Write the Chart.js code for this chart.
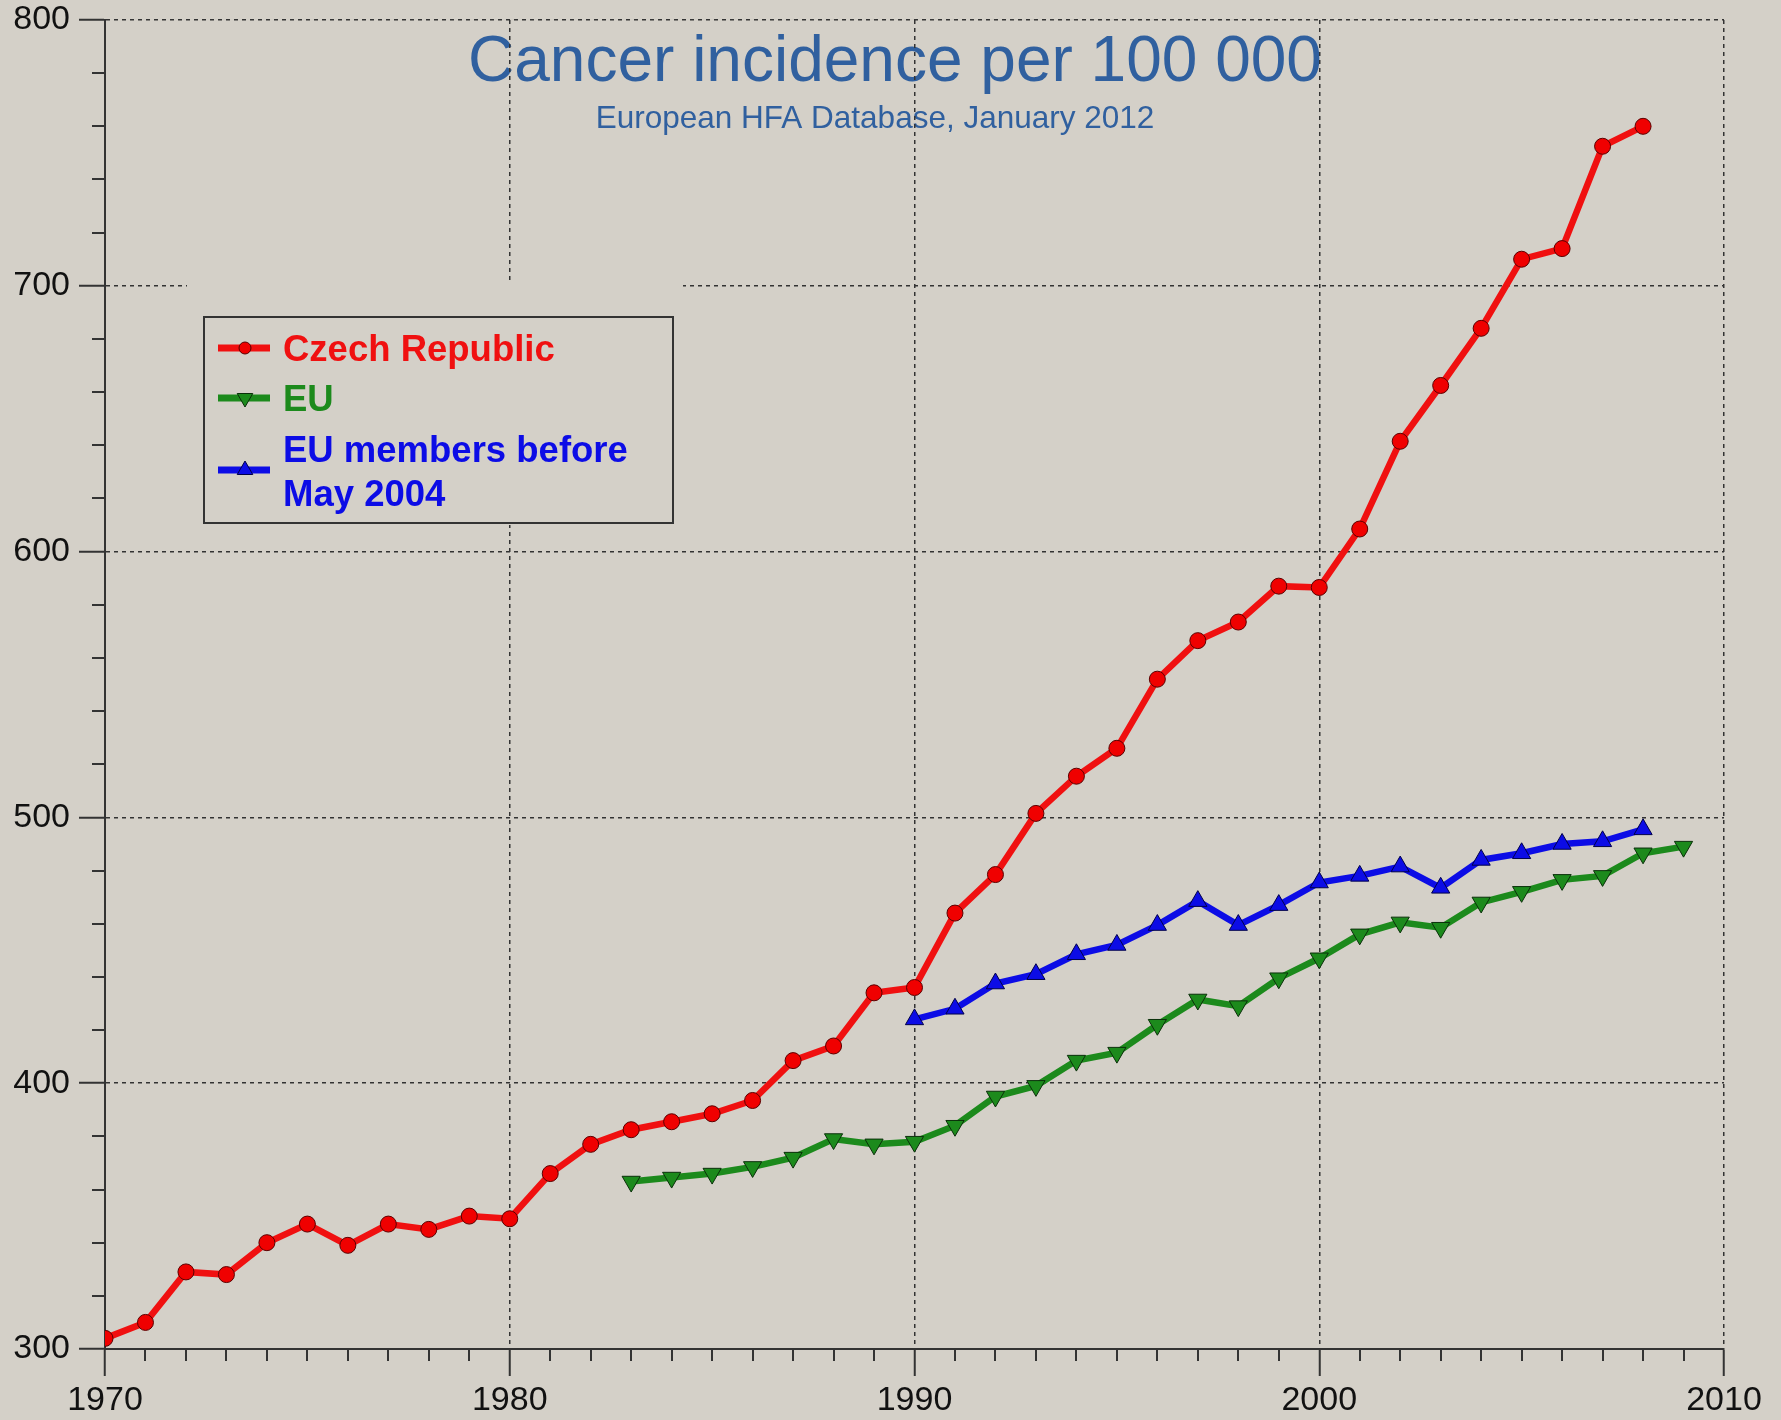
<!DOCTYPE html>
<html>
<head>
<meta charset="utf-8">
<script src="https://cdn.jsdelivr.net/npm/chart.js@4.4.1/dist/chart.umd.min.js"></script>
<style>
  html,body{margin:0;padding:0;background:#d4d0c8;}
  canvas{display:block;}
</style>
</head>
<body>
<canvas id="chart" width="1781" height="1420"></canvas>
<script>
const YEARS=[1970,1971,1972,1973,1974,1975,1976,1977,1978,1979,1980,1981,1982,1983,1984,1985,1986,1987,1988,1989,
  1990,1991,1992,1993,1994,1995,1996,1997,1998,1999,2000,2001,2002,2003,2004,2005,2006,2007,2008,2009];

const CZECH=[304,310,329,328,340,347,339,347,345,350,349,366,377,382.5,385.5,388.5,393.5,408.5,414,434,
  436,464,478.5,501.5,515.5,526,552,566.5,573.5,587,586.5,608.5,641.5,662.5,684,710,714,752.5,760,null];

const EU=[null,null,null,null,null,null,null,null,null,null,null,null,null,363,364.5,366,368.5,372,379,377,
  378,384,395,399,408.5,411.5,422,431.5,429,439.5,447,456,460.5,458.5,468,472,476.5,478,486.5,489];

const EU_OLD=[null,null,null,null,null,null,null,null,null,null,null,null,null,null,null,null,null,null,null,null,
  424,428,437.5,441,448.5,452,459.5,468.5,459.5,467,475.5,478,481.5,473.5,484,486.5,490,491,495.5,null];

const SERIES_LABELS=[["Czech Republic"],["EU"],["EU members before","May 2004"]];
const TITLE="Cancer incidence per 100 000";
const SUBTITLE="European HFA Database, January 2012";

const BG="#d4d0c8";
const AXIS="#333333";
const RED="#f01010";
const GREEN="#1c8a1c";
const BLUE="#0c0ce6";

function points(values){
  const out=[];
  values.forEach((v,i)=>{ if(v!==null) out.push({x:YEARS[i],y:v}); });
  return out;
}

/* fond + titres (sous la grille) */
const backdrop={
  id:"backdrop",
  beforeDraw(chart){
    const ctx=chart.ctx;
    ctx.save();
    ctx.fillStyle=BG;
    ctx.fillRect(0,0,chart.width,chart.height);
    ctx.fillStyle="#30609f";
    ctx.textAlign="center";
    ctx.textBaseline="alphabetic";
    ctx.font="64px 'Liberation Sans', Arial, sans-serif";
    ctx.fillText(TITLE,895,81);
    ctx.font="31.5px 'Liberation Sans', Arial, sans-serif";
    ctx.fillText(SUBTITLE,875,128);
    ctx.restore();
  }
};

/* petites graduations */
const minorTicks={
  id:"minorTicks",
  afterDraw(chart){
    const ctx=chart.ctx;
    const xs=chart.scales.x, ys=chart.scales.y;
    const area=chart.chartArea;
    ctx.save();
    ctx.strokeStyle=AXIS;
    ctx.lineWidth=2;
    ctx.beginPath();
    for(let v=ys.min;v<=ys.max;v+=20){
      if(v%100===0) continue;
      const y=Math.round(ys.getPixelForValue(v));
      ctx.moveTo(area.left-13,y);
      ctx.lineTo(area.left,y);
    }
    for(let yr=xs.min;yr<=xs.max;yr++){
      if(yr%10===0) continue;
      const x=Math.round(xs.getPixelForValue(yr));
      ctx.moveTo(x,area.bottom);
      ctx.lineTo(x,area.bottom+12);
    }
    ctx.stroke();
    ctx.restore();
  }
};

/* légende encadrée */
const boxLegend={
  id:"boxLegend",
  beforeDatasetsDraw(chart){
    const ctx=chart.ctx;
    ctx.save();
    ctx.fillStyle=BG;
    ctx.fillRect(187,282,496,243);
    ctx.strokeStyle=AXIS;
    ctx.lineWidth=2;
    ctx.strokeRect(204,317,469,206);

    const rows=[
      {lineY:348,base:[361]},
      {lineY:398,base:[411]},
      {lineY:470,base:[462,506]}
    ];
    ctx.font="bold 36.5px 'Liberation Sans', Arial, sans-serif";
    ctx.textBaseline="alphabetic";
    ctx.textAlign="left";
    chart.data.datasets.forEach((ds,i)=>{
      const r=rows[i];
      ctx.strokeStyle=ds.borderColor;
      ctx.lineWidth=7;
      ctx.beginPath();
      ctx.moveTo(218,r.lineY);
      ctx.lineTo(270,r.lineY);
      ctx.stroke();
      ctx.fillStyle=ds.pointBackgroundColor;
      ctx.strokeStyle=ds.pointBorderColor;
      ctx.lineWidth=1;
      Chart.helpers.drawPoint(ctx,{pointStyle:ds.pointStyle,rotation:ds.pointRotation||0,radius:i===0?6:9,borderWidth:1},245,r.lineY);
      ctx.fillStyle=ds.borderColor;
      SERIES_LABELS[i].forEach((t,k)=>ctx.fillText(t,283,r.base[k]));
    });
    ctx.restore();
  }
};

new Chart(document.getElementById("chart"),{
  type:"line",
  data:{
    datasets:[
      {
        label:SERIES_LABELS[0].join(" "),
        data:points(CZECH),
        borderColor:RED,
        borderWidth:6.5,
        pointStyle:"circle",
        pointRadius:8,
        pointBackgroundColor:"#f00000",
        pointBorderColor:"#5a0000",
        pointBorderWidth:1,
        tension:0
      },
      {
        label:SERIES_LABELS[1].join(" "),
        data:points(EU),
        borderColor:GREEN,
        borderWidth:6.5,
        pointStyle:"triangle",
        pointRotation:180,
        pointRadius:10.5,
        pointBackgroundColor:"#1c8a1c",
        pointBorderColor:"#0a300a",
        pointBorderWidth:1,
        tension:0
      },
      {
        label:SERIES_LABELS[2].join(" "),
        data:points(EU_OLD),
        borderColor:BLUE,
        borderWidth:6.5,
        pointStyle:"triangle",
        pointRadius:10.5,
        pointBackgroundColor:"#0c0ce6",
        pointBorderColor:"#00004a",
        pointBorderWidth:1,
        tension:0
      }
    ]
  },
  options:{
    responsive:false,
    animation:false,
    layout:{padding:{top:20,right:57,left:0,bottom:0}},
    plugins:{legend:{display:false},tooltip:{enabled:false}},
    scales:{
      x:{
        type:"linear",
        min:1970,
        max:2010,
        afterFit(s){ s.height=71; },
        ticks:{
          stepSize:10,
          maxRotation:0,
          color:"#111",
          padding:4,
          font:{family:"'Liberation Sans', Arial, sans-serif",size:34},
          callback:v=>String(v)
        },
        grid:{color:AXIS,lineWidth:1.5,tickLength:27,tickWidth:2,tickColor:AXIS},
        border:{display:true,color:AXIS,width:2,dash:[4,4]}
      },
      y:{
        min:300,
        max:800,
        afterFit(s){ s.width=105; s.paddingTop=0; s.paddingBottom=0; },
        ticks:{
          stepSize:100,
          color:"#111",
          padding:9,
          font:{family:"'Liberation Sans', Arial, sans-serif",size:34}
        },
        grid:{color:AXIS,lineWidth:1.5,tickLength:26,tickWidth:2,tickColor:AXIS},
        border:{display:true,color:AXIS,width:2,dash:[4,4]}
      }
    }
  },
  plugins:[backdrop,minorTicks,boxLegend]
});
</script>
</body>
</html>
